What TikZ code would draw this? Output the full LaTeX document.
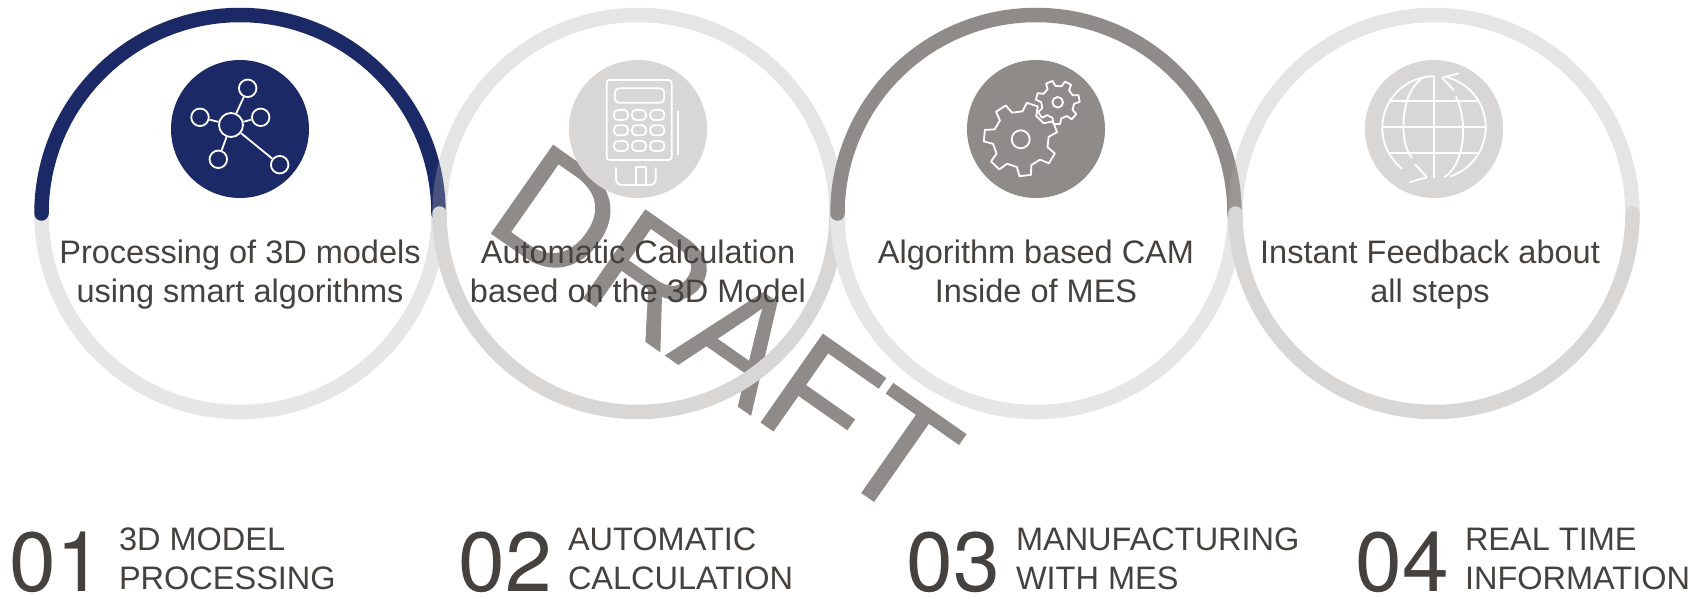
\documentclass[tikz,border=0pt]{standalone}
\usepackage{fontspec}
\setmainfont{Liberation Sans}
\newfontfamily\numfont{TeX Gyre Heros}
\newfontfamily\draftfont[Kerning=Off,RawFeature={embolden=0.8}]{Liberation Sans}
\usetikzlibrary{positioning}
\definecolor{navy}{HTML}{1B2A67}
\definecolor{slate}{HTML}{8F8B89}
\definecolor{pale}{HTML}{E6E6E6}
\definecolor{mid}{HTML}{D8D7D5}
\definecolor{veil}{HTML}{AFAFAF}
\definecolor{ink}{HTML}{45413E}
\tikzset{ringline/.style={line width=14.5pt, line cap=round}}
\tikzset{ringnavy/.style={draw=navy}}
\tikzset{ringgrey/.style={draw=slate}}
\tikzset{ringpale/.style={draw=pale}}
\tikzset{ringmid/.style={draw=mid}}
\tikzset{ringveil/.style={draw=veil, draw opacity=0.32}}
\tikzset{iconline/.style={draw=white, line width=1.8pt, line join=round}}
\tikzset{hubdot/.style={circle, iconline, inner sep=0, minimum size=#1}}
\tikzset{blurb/.style={text=ink, align=center, font=\fontsize{32.5}{39.5}\selectfont}}
\tikzset{bignum/.style={text=ink, anchor=base west, inner sep=0, font=\numfont\fontsize{84}{84}\selectfont}}
\tikzset{caption/.style={text=ink, anchor=base west, inner sep=0, align=left, font=\fontsize{32.5}{39}\selectfont}}
\begin{document}
\begin{tikzpicture}[x=1pt, y=1pt]
	\useasboundingbox (0,0) rectangle (1700,598);
	\fill[white] (0,0) rectangle (1700,598);
	\node[rotate=-35, anchor=base west, inner sep=0, text=slate, font=\draftfont\fontsize{156}{156}\selectfont]
		(draftmark) at (481,372) {DRAFT};
	% rings
	\foreach \cx/\aone/\sone/\atwo/\stwo in {240/180/ringpale/0/ringnavy, 638/0/ringveil/180/ringmid,
			1036/180/ringpale/0/ringgrey, 1434/0/ringveil/180/ringmid} {
		\draw[ringline, \sone] (\cx,384.5) ++(\aone:198.5) arc (\aone:\aone+180:198.5);
		\draw[ringline, \stwo] (\cx,384.5) ++(\atwo:198.5) arc (\atwo:\atwo+180:198.5);
	}
	% icon discs
	\foreach \cx/\col in {240/navy, 638/mid, 1036/slate, 1434/mid}
		\fill[\col] (\cx,469) circle (69);
	% network
	\node[hubdot=24pt] (hub) at (231,473) {};
	\node[hubdot=17.5pt] (satn) at (247.7,509.7) {};
	\node[hubdot=17.5pt] (satw) at (200,480.7) {};
	\node[hubdot=17.5pt] (sate) at (260.7,480.7) {};
	\node[hubdot=17.5pt] (sats) at (218.3,438.7) {};
	\node[hubdot=17.5pt] (satse) at (279.7,433.3) {};
	\foreach \sat in {satn, satw, sate, sats, satse}
		\draw[iconline] (hub) -- (\sat);
	% calculator
	\draw[iconline, rounded corners=3] (606.7,438) rectangle (671.7,518);
	\draw[iconline, rounded corners=4] (615,495.3) rectangle (664.3,509.7);
	\foreach \kx in {621,639,657.3}
		\foreach \ky in {483,467.7,452}
			\draw[iconline, rounded corners=4] (\kx-7,\ky-5) rectangle (\kx+7,\ky+5);
	\draw[iconline] (677.7,443) -- (677.7,487.3);
	\draw[iconline, rounded corners=5] (616,430.7) -- (616,413) -- (655.7,413) -- (655.7,430.7);
	\draw[iconline] (636,413) -- (636,430.7) -- (646,430.7) -- (646,413);
	% gears
	\begin{scope}[shift={(1020.7,458.7)}]
		\draw[iconline] (5:28) \foreach \i [evaluate=\i as \a using 20+\i*360/7] in {0,...,6} {
			-- (\a-15:28) -- (\a-9:37) -- (\a+9:37) -- (\a+15:28) } -- cycle;
		\draw[iconline] (0,0) circle (9);
	\end{scope}
	\begin{scope}[shift={(1057.7,495.7)}]
		\draw[iconline] (-5:16.5) \foreach \i [evaluate=\i as \a using 10+\i*360/7] in {0,...,6} {
			-- (\a-15:16.5) -- (\a-9:22) -- (\a+9:22) -- (\a+15:16.5) } -- cycle;
		\draw[iconline] (0,0) circle (5.3);
	\end{scope}
	% globe
	\begin{scope}[shift={(1434,470.7)}]
		\draw[iconline] (0,51) -- (0,-51);
		\draw[iconline] (-51.7,0) -- (51.7,0);
		\draw[iconline] (-45,26) -- (45,26);
		\draw[iconline] (-45,-26) -- (45,-26);
		\draw[iconline] (90:51) arc (90:232:51.7);
		\draw[iconline] (76:51.7) arc (76:-72:51.7);
		\draw[iconline] (-8,51) .. controls (-34,40) and (-36,-15) .. (-22,-31);
		\draw[iconline] (22,31) .. controls (36,0) and (28,-40) .. (10,-50);
		\draw[iconline] (8,49.5) -- (25,54);
		\draw[iconline] (8,49.5) -- (20,37);
		\draw[iconline] (-7,-50) -- (-25,-55);
		\draw[iconline] (-7,-50) -- (-19,-37);
	\end{scope}
	% texts
	\foreach \cx/\blurbtxt in {240/{Processing of 3D models\\using smart algorithms},
			638/{Automatic Calculation\\based on the 3D Model},
			1036/{Algorithm based CAM\\Inside of MES},
			1430/{Instant Feedback about\\all steps}}
		\node[blurb] at (\cx,323) {\strut\blurbtxt\strut};
	\foreach \nx/\numtxt/\captxt in {9.5/01/{3D MODEL\\PROCESSING}, 458.5/02/{AUTOMATIC\\CALCULATION},
			906.5/03/{MANUFACTURING\\WITH MES}, 1355.5/04/{REAL TIME\\INFORMATION}} {
		\node[bignum] (num\numtxt) at (\nx,7) {\numtxt};
		\node[caption, right=15.5pt of num\numtxt.base east, anchor=base west, yshift=1.5pt] (cap\numtxt) {\captxt};
	}
\end{tikzpicture}
\end{document}
